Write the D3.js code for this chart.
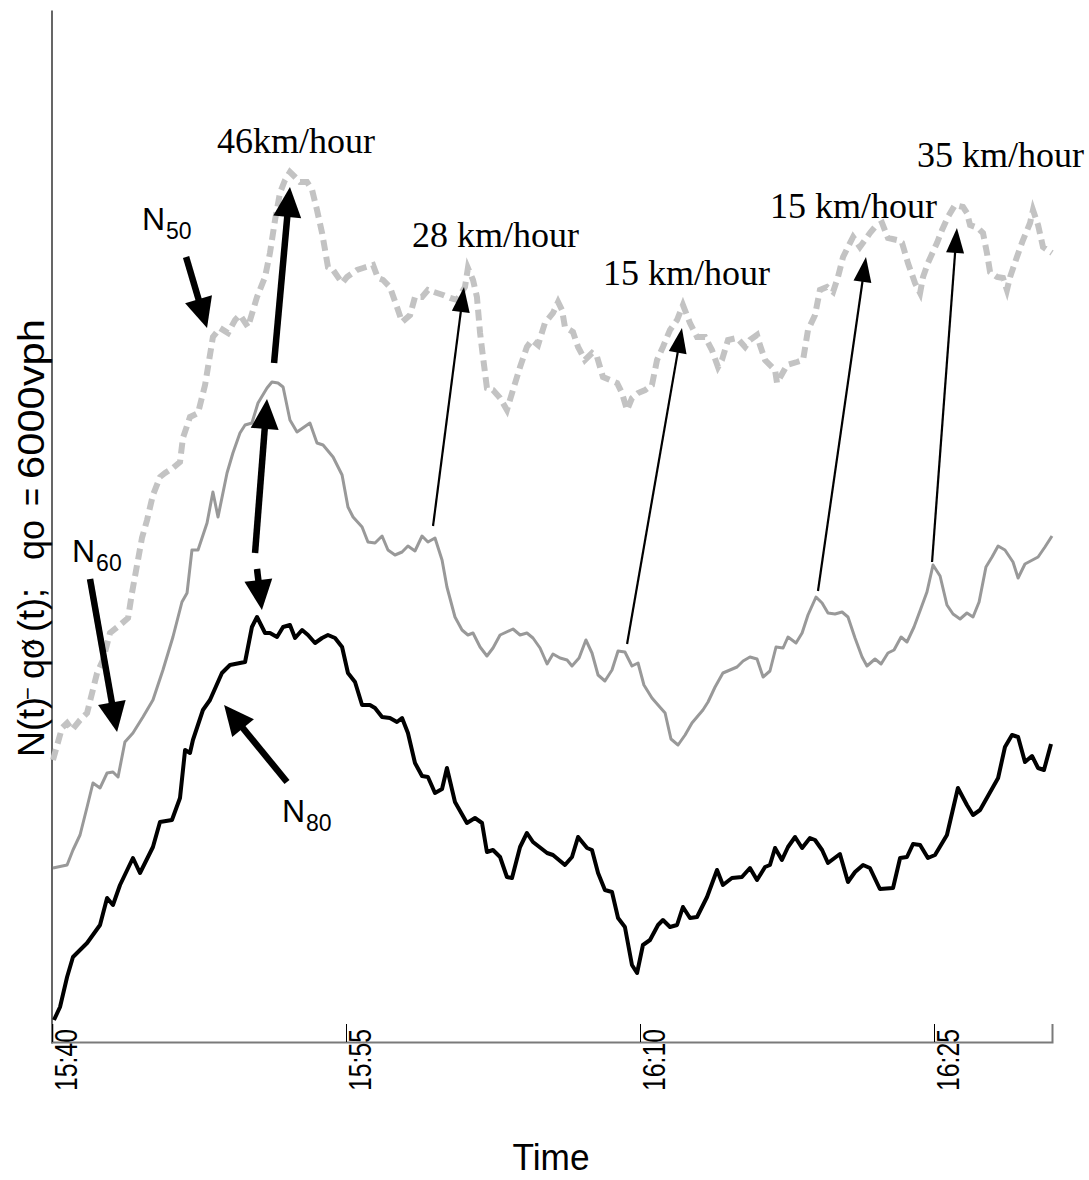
<!DOCTYPE html>
<html><head><meta charset="utf-8">
<script src="https://cdn.jsdelivr.net/npm/d3@7"></script>
<style>body{margin:0;background:#fff}</style>
</head><body>
<svg id="c" width="1089" height="1180" xmlns="http://www.w3.org/2000/svg"></svg>
<script>
// ---- data (time in minutes after 15:40; cumulative count in relative vehicle units) ----
const tickMinutes = [0, 15, 30, 45];
const tickLabels = ["15:40", "15:55", "16:10", "16:25"];
const endMinute = 51.02;

const n80 = [[0.10,23],[0.41,36],[0.77,66],[1.07,86],[1.79,100],[2.45,118],[2.81,145],[3.11,138],[3.47,158],[4.13,185],[4.49,170],[5.15,196],[5.51,221],[6.12,223],[6.53,245],[6.79,293],[7.04,290],[7.19,303],[7.70,333],[8.06,343],[8.67,370],[9.08,378],[9.59,380],[9.85,381],[10.20,416],[10.46,426],[10.87,410],[11.12,410],[11.48,406],[11.79,416],[12.14,418],[12.40,405],[12.76,413],[13.06,408],[13.42,400],[13.78,405],[14.08,408],[14.44,405],[14.80,396],[15.10,370],[15.46,361],[15.82,338],[16.22,338],[16.48,335],[16.84,326],[17.24,325],[17.60,321],[17.86,325],[18.16,310],[18.52,280],[18.88,267],[19.18,266],[19.54,250],[19.90,254],[20.15,275],[20.56,241],[21.17,220],[21.58,225],[21.94,220],[22.19,191],[22.50,193],[22.86,186],[23.21,166],[23.47,165],[23.88,196],[24.23,210],[24.54,201],[25.26,190],[25.56,188],[26.17,178],[26.53,186],[26.84,206],[27.30,195],[27.55,193],[27.86,170],[28.21,153],[28.57,151],[28.88,125],[29.23,116],[29.59,78],[29.85,70],[30.15,98],[30.51,103],[30.92,118],[31.17,123],[31.53,116],[31.89,118],[32.19,136],[32.55,125],[32.91,126],[33.42,146],[33.93,173],[34.23,158],[34.69,165],[35.20,166],[35.61,175],[35.97,163],[36.38,176],[36.63,178],[36.89,195],[37.24,183],[37.55,196],[37.91,206],[38.27,195],[38.67,205],[38.93,203],[39.29,193],[39.59,180],[40.20,189],[40.61,161],[40.97,171],[41.38,178],[41.73,175],[42.24,154],[42.91,155],[43.27,185],[43.62,186],[43.93,199],[44.29,198],[44.69,185],[45.05,188],[45.66,208],[46.22,255],[46.68,238],[46.99,228],[47.35,233],[48.27,265],[48.62,296],[48.98,308],[49.29,306],[49.64,281],[50.00,287],[50.31,275],[50.61,273],[50.97,299]];

const n60 = [[0.05,175],[0.77,178],[1.07,193],[1.43,208],[1.79,236],[2.09,260],[2.45,255],[2.81,270],[3.11,271],[3.37,266],[3.72,301],[4.13,310],[4.64,326],[5.15,343],[5.66,373],[6.17,406],[6.63,441],[6.89,450],[7.14,493],[7.45,493],[7.91,520],[8.21,551],[8.47,526],[8.93,570],[9.23,590],[9.59,610],[9.85,618],[10.20,620],[10.51,640],[10.97,655],[11.22,661],[11.53,660],[11.79,656],[12.14,623],[12.50,611],[13.16,620],[13.52,600],[13.83,598],[14.34,586],[14.80,568],[15.10,536],[15.36,526],[15.82,516],[16.12,501],[16.48,500],[16.84,507],[17.14,493],[17.50,488],[17.86,491],[18.16,497],[18.52,492],[18.88,507],[19.18,501],[19.54,505],[19.90,483],[20.15,456],[20.56,426],[20.92,413],[21.22,408],[21.48,410],[21.84,396],[22.19,387],[22.50,395],[22.86,408],[23.52,414],[23.88,408],[24.23,410],[24.54,405],[24.90,395],[25.26,379],[25.56,389],[25.92,385],[26.28,383],[26.53,377],[26.89,385],[27.24,403],[27.55,390],[27.86,368],[28.21,362],[28.57,373],[28.88,392],[29.23,391],[29.59,377],[29.90,380],[30.20,358],[30.61,345],[30.92,338],[31.28,330],[31.58,304],[31.94,298],[32.30,308],[32.65,320],[33.21,333],[33.47,341],[33.83,356],[34.23,370],[34.95,376],[35.26,382],[35.61,386],[35.97,384],[36.28,366],[36.63,372],[36.94,396],[37.30,395],[37.55,406],[37.96,400],[38.27,410],[38.57,428],[38.98,446],[39.29,440],[39.59,430],[39.95,429],[40.31,431],[40.61,426],[40.97,405],[41.33,386],[41.58,377],[41.99,384],[42.30,379],[42.65,390],[42.96,393],[43.32,406],[43.62,401],[43.98,416],[44.34,435],[44.64,451],[44.95,478],[45.31,467],[45.66,438],[45.97,429],[46.33,424],[46.68,430],[46.99,426],[47.30,441],[47.65,476],[47.96,486],[48.27,497],[48.62,493],[49.03,481],[49.29,465],[49.64,479],[50.31,486],[50.66,496],[51.02,507]];

const n50 = [[0.05,283],[0.51,315],[0.77,320],[1.02,313],[1.43,323],[1.79,330],[2.30,370],[2.60,383],[2.96,410],[3.47,418],[3.88,425],[4.08,450],[4.34,478],[4.59,505],[4.85,523],[5.15,548],[5.51,566],[5.77,570],[6.17,575],[6.53,581],[6.68,605],[7.04,626],[7.45,630],[7.81,658],[8.21,706],[8.57,715],[8.98,710],[9.34,723],[9.59,728],[10.00,716],[10.46,746],[10.87,766],[11.12,790],[11.38,823],[11.63,850],[11.89,863],[12.14,871],[12.40,866],[12.65,861],[13.01,861],[13.27,853],[13.52,833],[13.78,810],[14.08,776],[14.34,773],[14.80,760],[15.05,766],[15.56,773],[15.87,775],[16.38,778],[16.63,765],[16.89,763],[17.24,756],[17.60,736],[17.86,721],[18.27,728],[18.52,746],[18.88,746],[19.18,753],[19.64,750],[19.95,748],[20.31,745],[20.66,743],[21.07,756],[21.22,775],[21.48,763],[21.68,746],[21.84,710],[21.99,686],[22.19,655],[22.50,653],[22.86,645],[23.21,633],[23.52,653],[23.88,676],[24.23,696],[24.49,703],[24.80,698],[25.15,720],[25.56,730],[25.82,741],[26.02,733],[26.17,716],[26.58,711],[26.84,696],[27.19,683],[27.55,690],[27.81,686],[28.11,666],[28.47,663],[28.83,660],[29.08,650],[29.34,633],[29.59,645],[29.90,650],[30.26,653],[30.61,658],[30.87,683],[31.17,696],[31.53,713],[31.89,723],[32.19,738],[32.55,720],[32.91,706],[33.32,706],[33.67,693],[33.98,676],[34.18,683],[34.49,703],[34.95,705],[35.36,696],[35.61,703],[35.97,708],[36.12,698],[36.38,683],[36.89,673],[36.99,660],[37.50,678],[38.01,681],[38.32,683],[38.57,713],[38.93,728],[39.18,753],[39.54,756],[39.85,751],[40.10,766],[40.36,786],[40.61,796],[40.87,806],[41.22,796],[41.48,803],[41.73,810],[41.99,816],[42.35,820],[42.65,805],[43.11,803],[43.37,800],[43.67,780],[44.03,760],[44.29,750],[44.44,766],[44.69,780],[45.15,800],[45.41,813],[45.71,826],[46.07,838],[46.48,836],[46.68,830],[46.84,818],[47.24,815],[47.50,810],[47.70,790],[47.86,771],[48.22,766],[48.52,765],[48.72,753],[48.88,766],[49.23,786],[49.54,803],[49.90,820],[50.05,833],[50.31,818],[50.56,796],[51.02,790]];

// annotation arrows: [tailT, tailV, tipT, tipV]
const thickArrows = [
  [6.84,786, 7.91,715],     // N50
  [1.94,464, 3.32,311],     // N60
  [11.99,261, 8.78,338],    // N80
  [11.33,680, 12.14,856],   // 46 km/hour
  [10.36,490, 10.97,644],   // N80 peak -> N60 peak
  [10.46,474, 10.71,433]    // N60 peak -> N80 peak
];
const thinArrows = [
  [19.44,517, 21.02,756],   // 28 km/hour
  [29.34,399, 32.14,715],   // 15 km/hour
  [39.08,452, 41.53,786],   // 15 km/hour
  [44.90,481, 46.17,815]    // 35 km/hour
];
const speedLabels = [
  {t:8.42,  v:890, text:"46km/hour"},
  {t:18.37, v:796, text:"28 km/hour"},
  {t:28.11, v:758, text:"15 km/hour"},
  {t:36.63, v:825, text:"15 km/hour"},
  {t:44.13, v:876, text:"35 km/hour"}
];
const seriesLabels = [
  {t:4.59,  v:813, main:"N", sub:"50"},
  {t:1.02,  v:481, main:"N", sub:"60"},
  {t:11.73, v:221, main:"N", sub:"80"}
];

// ---- drawing ----
const svg = d3.select("#c");
const x = d3.scaleLinear().domain([0, endMinute]).range([52, 1052]);
const y = d3.scaleLinear().domain([0, 1033]).range([1043, 10]);
const sans = "'Liberation Sans', Arial, Helvetica, sans-serif";
const serif = "'Liberation Serif', 'Times New Roman', serif";

// y axis (no ticks)
svg.append("g").attr("transform","translate(51.5,0)")
  .call(d3.axisLeft(y).tickValues([]).tickSizeOuter(0))
  .call(g => g.select(".domain").attr("stroke","#000").attr("stroke-width",1.2));

// x axis, ticks pointing up
const xa = svg.append("g").attr("transform","translate(0,1042)")
  .call(d3.axisBottom(x).tickValues(tickMinutes).tickSize(-18).tickSizeOuter(-18).tickFormat(""));
xa.select(".domain").attr("stroke","#7a7a7a").attr("stroke-width",2);
xa.selectAll(".tick line").attr("stroke","#000").attr("stroke-width",1);

// tick labels
svg.append("g").selectAll("text").data(tickMinutes).join("text")
  .attr("transform", d => `translate(${x(d)+25},1029) rotate(-90)`)
  .attr("text-anchor","end")
  .attr("font-family", sans).attr("font-size", 31)
  .attr("textLength", 62).attr("lengthAdjust","spacingAndGlyphs")
  .text((d,i) => tickLabels[i]);

// axis titles
svg.append("text").attr("x",551).attr("y",1170).attr("text-anchor","middle")
  .attr("font-family",sans).attr("font-size",37)
  .attr("textLength",77).attr("lengthAdjust","spacingAndGlyphs").text("Time");

const yt = svg.append("g").attr("transform","translate(44,0) rotate(-90)")
  .attr("font-family",sans).attr("font-size",36).attr("fill","#000");
yt.append("text").attr("x",-757).attr("y",0).text("N(t)");
yt.append("text").attr("x",-700).attr("y",-9).attr("font-size",22).text("\u2212");
yt.append("text").attr("x",-679).attr("y",0).text("qo");
yt.append("text").attr("x",-650).attr("y",-10).attr("font-size",22).text("x");
yt.append("text").attr("x",-632).attr("y",0).text("(t);");
yt.append("text").attr("x",-560).attr("y",0).text("qo");
yt.append("text").attr("x",-506).attr("y",0).attr("textLength",18).attr("lengthAdjust","spacingAndGlyphs").text("=");
yt.append("text").attr("x",-479).attr("y",0).attr("textLength",160).attr("lengthAdjust","spacingAndGlyphs").text("6000vph");

// series
const line = d3.line().x(d => x(d[0])).y(d => y(d[1]));
svg.append("path").datum(n50).attr("d",line).attr("fill","none")
  .attr("stroke","#c3c3c3").attr("stroke-width",6).attr("stroke-dasharray","11,6")
  .attr("stroke-linejoin","miter");
svg.append("path").datum(n60).attr("d",line).attr("fill","none")
  .attr("stroke","#999999").attr("stroke-width",3).attr("stroke-linejoin","round");
svg.append("path").datum(n80).attr("d",line).attr("fill","none")
  .attr("stroke","#000").attr("stroke-width",4).attr("stroke-linejoin","round");

// arrows
function drawArrow(a, lw, hl, hw) {
  const x1 = x(a[0]), y1 = y(a[1]), x2 = x(a[2]), y2 = y(a[3]);
  const dx = x2 - x1, dy = y2 - y1, L = Math.hypot(dx, dy);
  const ux = dx / L, uy = dy / L, px = -uy, py = ux;
  const bx = x2 - ux * hl, by = y2 - uy * hl;
  svg.append("line").attr("x1",x1).attr("y1",y1).attr("x2",bx + ux*1).attr("y2",by + uy*1)
    .attr("stroke","#000").attr("stroke-width",lw);
  svg.append("path").attr("d",
    `M${x2},${y2}L${bx + px*hw/2},${by + py*hw/2}L${bx - px*hw/2},${by - py*hw/2}Z`)
    .attr("fill","#000");
}
thickArrows.forEach(a => drawArrow(a, 6.5, 30, 28));
thinArrows.forEach(a => drawArrow(a, 2.2, 25, 18));

// speed labels
svg.append("g").selectAll("text").data(speedLabels).join("text")
  .attr("x", d => x(d.t)).attr("y", d => y(d.v))
  .attr("font-family", serif).attr("font-size", 36).text(d => d.text);

// series labels
const sl = svg.append("g").selectAll("text").data(seriesLabels).join("text")
  .attr("x", d => x(d.t)).attr("y", d => y(d.v))
  .attr("font-family", sans).attr("font-size", 32);
sl.append("tspan").text(d => d.main);
sl.append("tspan").attr("font-size",23).attr("dy",9).attr("dx",1).text(d => d.sub);
</script>
</body></html>
